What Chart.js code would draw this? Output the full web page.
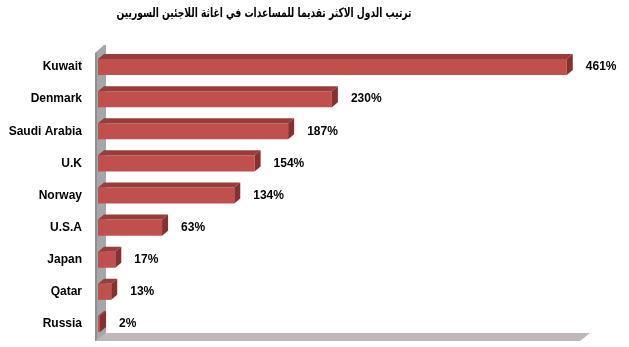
<!DOCTYPE html>
<html>
<head>
<meta charset="utf-8">
<script src="https://cdn.jsdelivr.net/npm/chart.js@4/dist/chart.umd.min.js"></script>
<style>
  html, body { margin: 0; padding: 0; background: #fff; }
  #wrap { width: 629px; height: 347px; }
</style>
</head>
<body>
<div id="wrap"><canvas id="c" width="629" height="347"></canvas></div>
<script>
const titleText = "ترتيب الدول الاكثر تقديما للمساعدات في اغاثة اللاجئين السوريين";
const categories = ["Kuwait", "Denmark", "Saudi Arabia", "U.K", "Norway", "U.S.A", "Japan", "Qatar", "Russia"];
const values = [461, 230, 187, 154, 134, 63, 17, 13, 2];
const valueSuffix = "%";

const DX = 6, DY = 5;

const threeD = {
  id: 'threeD',
  beforeDatasetsDraw(chart) {
    const ctx = chart.ctx;
    const a = chart.chartArea;
    const L = a.left, T = a.top, B = a.bottom, R = a.right;
    ctx.save();
    // wall
    ctx.fillStyle = '#A6A6A6';
    ctx.beginPath();
    ctx.moveTo(L - 3, T + 2);
    ctx.lineTo(L + 6, T - 6);
    ctx.lineTo(L + 8, T - 6);
    ctx.lineTo(L + 8, B - 7);
    ctx.lineTo(L - 1, B + 1);
    ctx.lineTo(L - 3, B + 1);
    ctx.closePath();
    ctx.fill();
    ctx.fillStyle = '#8E8E8E';
    ctx.beginPath();
    ctx.moveTo(L - 3, T + 2);
    ctx.lineTo(L - 1, T + 1);
    ctx.lineTo(L - 1, B + 1);
    ctx.lineTo(L - 3, B + 1);
    ctx.closePath();
    ctx.fill();
    // floor
    ctx.fillStyle = '#C0B8B8';
    ctx.beginPath();
    ctx.moveTo(L - 3, B + 1);
    ctx.lineTo(R, B + 1);
    ctx.lineTo(R + 10, B - 7);
    ctx.lineTo(L + 8, B - 7);
    ctx.closePath();
    ctx.fill();
    ctx.restore();
  },
  afterDatasetsDraw(chart) {
    const ctx = chart.ctx;
    const meta = chart.getDatasetMeta(0);
    ctx.save();
    meta.data.forEach((bar, i) => {
      const p = bar.getProps(['x', 'y', 'base', 'height'], true);
      const top = p.y - p.height / 2, bot = p.y + p.height / 2;
      // top face
      ctx.fillStyle = '#9A3D3A';
      ctx.beginPath();
      ctx.moveTo(p.base, top);
      ctx.lineTo(p.x, top);
      ctx.lineTo(p.x + DX, top - DY);
      ctx.lineTo(p.base + DX, top - DY);
      ctx.closePath();
      ctx.fill();
      // side face
      ctx.fillStyle = '#823230';
      ctx.beginPath();
      ctx.moveTo(p.x, top);
      ctx.lineTo(p.x + DX, top - DY);
      ctx.lineTo(p.x + DX, bot - DY);
      ctx.lineTo(p.x, bot);
      ctx.closePath();
      ctx.fill();
      // label
      ctx.fillStyle = '#000';
      ctx.font = 'bold 12px "Liberation Sans", Arial, sans-serif';
      ctx.textAlign = 'left';
      ctx.textBaseline = 'middle';
      ctx.fillText(values[i] + valueSuffix, p.x + 19, p.y);
    });
    // title
    ctx.fillStyle = '#000';
    ctx.font = 'bold 13px "DejaVu Sans", sans-serif';
    ctx.textAlign = 'center';
    ctx.textBaseline = 'middle';
    ctx.fillText(titleText, 264, 14, 295);
    ctx.restore();
  }
};

new Chart(document.getElementById('c'), {
  type: 'bar',
  data: {
    labels: categories,
    datasets: [{
      data: values,
      backgroundColor: '#C0504D',
      borderWidth: 0,
      barPercentage: 0.5,
      categoryPercentage: 1.0
    }]
  },
  options: {
    indexAxis: 'y',
    responsive: false,
    animation: false,
    events: [],
    layout: { padding: { left: 0, right: 49, top: 51, bottom: 7 } },
    plugins: {
      legend: { display: false },
      tooltip: { enabled: false },
      title: { display: false }
    },
    scales: {
      x: {
        display: false,
        min: 0,
        max: 474
      },
      y: {
        afterFit(scale) {
          scale.width = 98;
          scale.paddingTop = 0;
          scale.paddingBottom = 0;
        },
        grid: { display: false, drawTicks: false },
        border: { display: false },
        ticks: {
          padding: 16,
          color: '#000',
          font: { family: '"Liberation Sans", Arial, sans-serif', size: 12, weight: 'bold' }
        }
      }
    }
  },
  plugins: [threeD]
});
</script>
</body>
</html>
